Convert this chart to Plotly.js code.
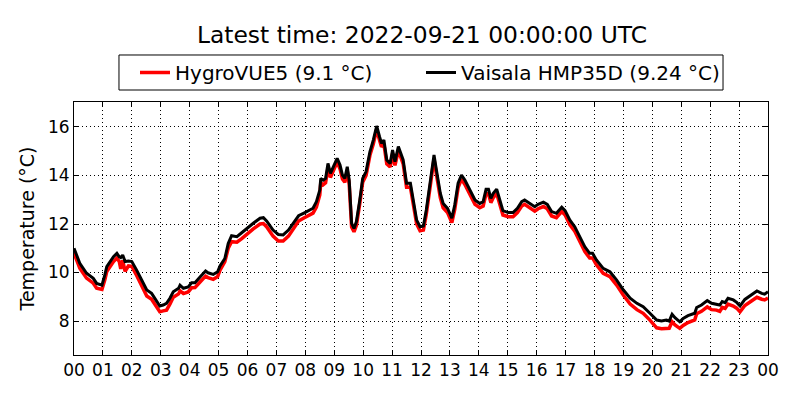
<!DOCTYPE html>
<html>
<head>
<meta charset="utf-8">
<script src="https://cdn.plot.ly/plotly-3.0.1.min.js"></script>
<style>
  html, body { margin: 0; padding: 0; background: #fff; }
  #chart { width: 800px; height: 400px; }
</style>
</head>
<body>
<div id="chart"></div>
<script>
// hours since 2022-09-20 00:00 UTC
const hours = [
    0.00, 0.20, 0.44, 0.67, 0.78, 0.96, 1.07, 1.13, 1.36, 1.48,
    1.57, 1.62, 1.68, 1.76, 1.88, 2.00, 2.17, 2.40, 2.51, 2.69,
    2.86, 2.97, 3.09, 3.20, 3.32, 3.43, 3.61, 3.67, 3.78, 3.95,
    4.07, 4.18, 4.36, 4.55, 4.64, 4.82, 4.96, 5.05, 5.22, 5.34,
    5.45, 5.63, 5.80, 5.97, 6.20, 6.43, 6.55, 6.66, 6.89, 7.06,
    7.24, 7.41, 7.58, 7.76, 7.93, 8.10, 8.27, 8.39, 8.50, 8.54,
    8.62, 8.70, 8.79, 8.87, 8.97, 9.10, 9.20, 9.29, 9.37, 9.45,
    9.52, 9.60, 9.68, 9.77, 9.89, 9.98, 10.10, 10.24, 10.35, 10.47,
    10.56, 10.64, 10.72, 10.81, 10.93, 11.02, 11.10, 11.21, 11.39, 11.50,
    11.64, 11.73, 11.85, 11.96, 12.08, 12.19, 12.31, 12.45, 12.54, 12.66,
    12.77, 12.91, 13.06, 13.17, 13.29, 13.40, 13.52, 13.69, 13.87, 14.04,
    14.15, 14.25, 14.33, 14.41, 14.50, 14.62, 14.73, 14.84, 15.02, 15.19,
    15.33, 15.48, 15.59, 15.77, 15.94, 16.05, 16.23, 16.37, 16.52, 16.69,
    16.86, 16.98, 17.15, 17.32, 17.50, 17.67, 17.84, 17.94, 18.07, 18.30,
    18.53, 18.76, 19.00, 19.23, 19.46, 19.69, 19.92, 20.15, 20.32, 20.49,
    20.58, 20.69, 20.78, 20.95, 21.07, 21.24, 21.47, 21.53, 21.70, 21.90,
    22.05, 22.22, 22.34, 22.42, 22.51, 22.62, 22.80, 22.91, 23.03, 23.20,
    23.38, 23.61, 23.78, 23.89, 24.00
];

const vaisala = [
    11.00, 10.38, 9.97, 9.76, 9.55, 9.48, 9.90, 10.24, 10.65, 10.79,
    10.65, 10.62, 10.72, 10.45, 10.47, 10.45, 10.10, 9.55, 9.28, 9.14,
    8.80, 8.62, 8.66, 8.73, 8.94, 9.21, 9.35, 9.48, 9.35, 9.41,
    9.58, 9.58, 9.83, 10.06, 9.99, 9.92, 10.03, 10.27, 10.58, 11.20,
    11.52, 11.48, 11.64, 11.82, 12.03, 12.24, 12.26, 12.12, 11.75, 11.57,
    11.55, 11.75, 12.03, 12.34, 12.44, 12.54, 12.65, 12.92, 13.40, 13.88,
    13.81, 13.88, 14.50, 14.09, 14.36, 14.71, 14.43, 14.02, 13.88, 14.36,
    13.81, 12.03, 11.82, 12.10, 12.99, 13.88, 14.16, 14.98, 15.46, 16.04,
    15.60, 15.33, 15.46, 14.64, 14.50, 15.05, 14.57, 15.19, 14.64, 13.68,
    13.68, 12.99, 12.16, 11.89, 11.92, 12.58, 13.68, 14.85, 14.23, 13.27,
    12.85, 12.65, 12.24, 12.78, 13.68, 14.02, 13.81, 13.40, 12.99, 12.85,
    12.92, 13.43, 13.43, 13.06, 13.27, 13.44, 12.99, 12.55, 12.47, 12.47,
    12.65, 12.92, 12.99, 12.85, 12.71, 12.81, 12.90, 12.81, 12.51, 12.44,
    12.69, 12.55, 12.16, 11.89, 11.48, 11.06, 10.79, 10.79, 10.52, 10.17,
    10.03, 9.69, 9.28, 8.94, 8.73, 8.59, 8.32, 8.04, 8.00, 8.04,
    8.00, 8.28, 8.14, 7.97, 8.11, 8.22, 8.32, 8.56, 8.66, 8.84,
    8.73, 8.70, 8.66, 8.80, 8.76, 8.94, 8.87, 8.77, 8.62, 8.89,
    9.04, 9.24, 9.14, 9.11, 9.21
];

const hygrovue = [
    10.80, 10.18, 9.77, 9.56, 9.35, 9.30, 9.70, 10.04, 10.45, 10.60,
    10.45, 10.15, 10.50, 10.05, 10.27, 10.25, 9.88, 9.30, 9.03, 8.90,
    8.55, 8.38, 8.42, 8.45, 8.70, 8.98, 9.12, 9.25, 9.13, 9.20,
    9.37, 9.38, 9.62, 9.85, 9.79, 9.72, 9.83, 10.10, 10.45, 11.00,
    11.27, 11.25, 11.40, 11.58, 11.80, 12.00, 12.02, 11.88, 11.50, 11.30,
    11.30, 11.50, 11.80, 12.12, 12.24, 12.34, 12.45, 12.70, 13.20, 13.70,
    13.62, 13.70, 14.32, 13.92, 14.20, 14.55, 14.27, 13.86, 13.72, 14.20,
    13.65, 11.88, 11.68, 11.95, 12.85, 13.72, 14.00, 14.83, 15.30, 15.90,
    15.45, 15.18, 15.30, 14.48, 14.35, 14.90, 14.42, 15.03, 14.48, 13.52,
    13.52, 12.83, 12.00, 11.72, 11.75, 12.40, 13.50, 14.68, 14.05, 13.09,
    12.67, 12.47, 12.06, 12.60, 13.50, 13.85, 13.63, 13.22, 12.81, 12.67,
    12.74, 13.25, 13.25, 12.88, 13.09, 13.26, 12.81, 12.37, 12.30, 12.30,
    12.47, 12.74, 12.81, 12.67, 12.53, 12.63, 12.72, 12.63, 12.33, 12.26,
    12.51, 12.37, 11.97, 11.70, 11.28, 10.86, 10.60, 10.60, 10.32, 9.97,
    9.83, 9.48, 9.06, 8.70, 8.47, 8.32, 8.04, 7.72, 7.68, 7.70,
    7.70, 7.97, 7.84, 7.70, 7.82, 7.94, 8.05, 8.30, 8.40, 8.58,
    8.47, 8.45, 8.40, 8.56, 8.52, 8.70, 8.62, 8.53, 8.38, 8.64,
    8.80, 8.98, 8.90, 8.87, 8.95
];

const seriesNames = ['HygroVUE5 (9.1 °C)', 'Vaisala HMP35D (9.24 °C)'];
const chartTitle = 'Latest time: 2022-09-21 00:00:00 UTC';
const yTitle = 'Temperature (°C)';

function toStamp(h) {
    let mins = Math.round(h * 60);
    let day = mins >= 1440 ? 21 : 20;
    mins = mins % 1440;
    let hh = String(Math.floor(mins / 60)).padStart(2, '0');
    let mm = String(mins % 60).padStart(2, '0');
    return `2022-09-${day} ${hh}:${mm}:00`;
}

const times = hours.map(toStamp);

const font = 'DejaVu Sans, sans-serif';

let traces = [
    {
        x: times,
        y: hygrovue,
        name: seriesNames[0],
        mode: 'lines',
        type: 'scatter',
        legend: 'legend',
        line: { color: '#ff0000', width: 3.5 }
    },
    {
        x: times,
        y: vaisala,
        name: seriesNames[1],
        mode: 'lines',
        type: 'scatter',
        legend: 'legend2',
        line: { color: '#000000', width: 3 }
    }
];

let axisCommon = {
    showline: true,
    linecolor: '#000',
    linewidth: 1,
    mirror: 'allticks',
    ticks: 'inside',
    ticklen: 5,
    tickcolor: '#000',
    showgrid: true,
    gridcolor: '#000',
    griddash: '1px,3px',
    gridwidth: 1,
    zeroline: false,
    tickfont: { family: font, size: 17, color: '#000' }
};

// one legend per entry so the spacing can follow the original; a shared frame goes round both
let legendCommon = {
    orientation: 'h',
    xanchor: 'left',
    yanchor: 'middle',
    y: 1.1166,
    bgcolor: 'rgba(0,0,0,0)',
    borderwidth: 0,
    font: { family: font, size: 20, color: '#000' }
};

let layout = {
    width: 800,
    height: 400,
    margin: { l: 74, r: 32, t: 102, b: 45 },
    paper_bgcolor: '#fff',
    plot_bgcolor: '#fff',
    font: { family: font, color: '#000' },
    title: {
        text: chartTitle,
        font: { family: font, size: 23.4, color: '#000' },
        x: 0.5275,
        xanchor: 'center',
        y: 0.9125,
        yanchor: 'middle'
    },
    showlegend: true,
    legend: Object.assign({}, legendCommon, { x: 0.0879 }),
    legend2: Object.assign({}, legendCommon, { x: 0.500 }),
    shapes: [{
        type: 'rect',
        xref: 'paper',
        yref: 'paper',
        x0: 0.0648,
        x1: 0.9352,
        y0: 1.0474,
        y1: 1.1858,
        line: { color: '#000', width: 1 },
        fillcolor: 'rgba(0,0,0,0)'
    }],
    xaxis: Object.assign({}, axisCommon, {
        type: 'date',
        range: ['2022-09-20 00:00:00', '2022-09-21 00:00:00'],
        dtick: 3600000,
        tick0: '2022-09-20 00:00:00',
        tickformat: '%H'
    }),
    yaxis: Object.assign({}, axisCommon, {
        range: [6.6, 17.03],
        dtick: 2,
        tick0: 0,
        title: { text: yTitle, font: { family: font, size: 19, color: '#000' }, standoff: 8 }
    })
};

Plotly.newPlot('chart', traces, layout, { staticPlot: true, displayModeBar: false });
</script>
</body>
</html>
